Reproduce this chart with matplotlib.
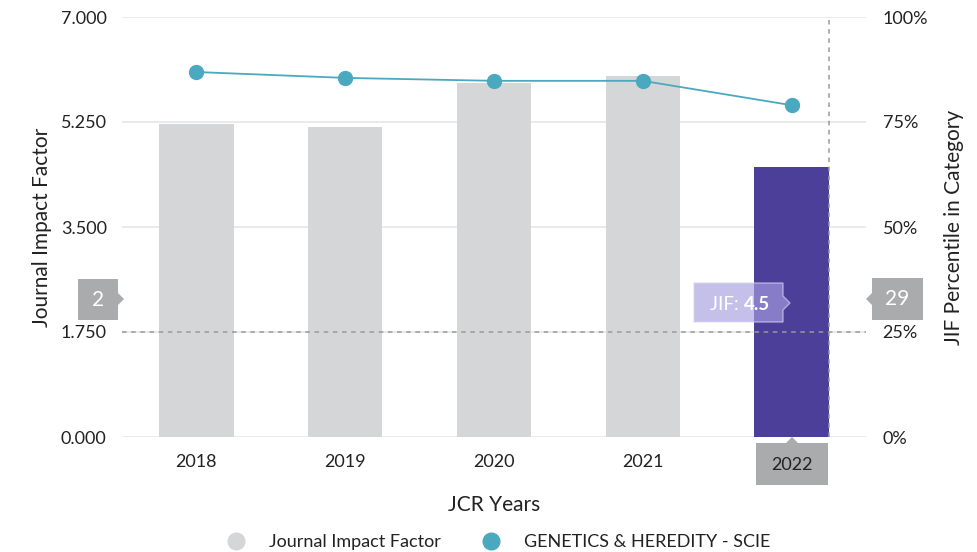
import matplotlib
matplotlib.use("Agg")
import matplotlib.pyplot as plt
from matplotlib.patches import Polygon
from matplotlib.lines import Line2D
import numpy as np

plt.rcParams['font.family'] = ['Lato', 'DejaVu Sans']

years = ["2018", "2019", "2020", "2021", "2022"]
jif = [5.22, 5.17, 5.9, 6.02, 4.5]
percentile = [86.9, 85.5, 84.8, 84.8, 79.0]
jif_ticks = [0.0, 1.75, 3.5, 5.25, 7.0]
pct_ticks = [0, 25, 50, 75, 100]
rank_left = "2"
rank_right = "29"
jif_label_value = "4.5"

bar_grey = "#d5d6d8"
bar_purple = "#4b3f9a"
teal = "#4ba9bf"
text_col = "#222222"

W, H = 977, 552
fig = plt.figure(figsize=(W / 100, H / 100), dpi=100)
ax = fig.add_axes([122 / W, 1 - 437 / H, 744 / W, 420 / H])
ax2 = ax.twinx()

x = np.arange(len(years))
colors = [bar_grey] * (len(years) - 1) + [bar_purple]
ax.bar(x, jif, width=0.5, color=colors, zorder=2)
ax.set_xlim(-0.5, len(years) - 0.5)
ax.set_ylim(0, 7.0)
ax.set_yticks(jif_ticks)
ax.set_yticklabels([f"{v:.3f}" for v in jif_ticks])
ax.set_xticks(x)
ax.set_xticklabels(years)
for lab in ax.get_xticklabels()[-1:]:
    lab.set_visible(False)
ax.grid(axis='y', color="#e6e6e6", linewidth=1.2, zorder=0)
ax.set_axisbelow(True)
for s in ax.spines.values():
    s.set_visible(False)
for s in ax2.spines.values():
    s.set_visible(False)
ax.tick_params(axis='both', length=0, labelsize=13, colors=text_col)
ax.tick_params(axis='y', pad=11)
ax.tick_params(axis='x', pad=12)
ax.set_ylabel("Journal Impact Factor", fontsize=15, color=text_col)
ax.yaxis.set_label_coords((52 - 122) / 744, 0.5)
ax.set_xlabel("JCR Years", fontsize=15, color=text_col, labelpad=18)

ax2.set_ylim(0, 100)
ax2.set_yticks(pct_ticks)
ax2.set_yticklabels([f"{v}%" for v in pct_ticks])
ax2.tick_params(axis='y', length=0, labelsize=13, colors=text_col, pad=12)
ax2.set_ylabel("JIF Percentile in Category", fontsize=15, color=text_col)
ax2.yaxis.set_label_coords((944 - 122) / 744, 0.5)
ax2.plot(x, percentile, color=teal, linewidth=1.3, marker='o', markersize=10, zorder=5)

# dashed reference lines
ax.axhline(1.75, color="#9a9a9a", linestyle=(0, (3, 3)), linewidth=1.1, zorder=3)
ax.axvline(len(years) - 1 + 0.25, color="#9a9a9a", linestyle=(0, (3, 3)), linewidth=1.1, zorder=3)

# callouts in pixel coordinates
def px(xp, yp):
    return (xp / W, 1 - yp / H)

def poly(pts, **kw):
    p = Polygon([px(a, b) for a, b in pts], closed=True, transform=fig.transFigure, **kw)
    fig.add_artist(p)

grey_box = "#a9abad"
# left rank box
poly([(78, 279), (118, 279), (118, 293), (124, 299), (118, 305), (118, 320), (78, 320)],
     facecolor=grey_box, edgecolor='none')
fig.text(*px(98, 300), rank_left, color="white", fontsize=15, ha='center', va='center')
# right rank box
poly([(872, 278), (923, 278), (923, 320), (872, 320), (872, 305), (866, 299), (872, 293)],
     facecolor=grey_box, edgecolor='none')
fig.text(*px(897, 299), rank_right, color="white", fontsize=15, ha='center', va='center')
# JIF box
poly([(694, 283), (783, 283), (783, 296), (790, 303), (783, 310), (783, 322), (694, 322)],
     facecolor="#a79ee0", edgecolor="#d8d3f0", alpha=0.65, linewidth=1, zorder=10)
fig.text(*px(727, 304), "JIF: ", color="white", fontsize=13.5, ha='center', va='center', zorder=11)
fig.text(*px(757, 304), jif_label_value, color="white", fontsize=13.5, fontweight='bold',
         ha='center', va='center', zorder=11)
# 2022 box
poly([(756, 443), (786, 443), (792, 437), (798, 443), (828, 443), (828, 485), (756, 485)],
     facecolor=grey_box, edgecolor='none')
fig.text(*px(792, 465), years[-1], color=text_col, fontsize=13, ha='center', va='center')

# legend
handles = [Line2D([], [], linestyle='none', marker='o', markersize=12, color=bar_grey),
           Line2D([], [], linestyle='none', marker='o', markersize=12, color=teal)]
fig.legend(handles, ["Journal Impact Factor", "GENETICS & HEREDITY - SCIE"],
           loc='center', bbox_to_anchor=(494 / W, 1 - 542 / H), ncol=2, frameon=False,
           fontsize=13, handletextpad=0.8, columnspacing=1.8, labelcolor=text_col)

fig.savefig("out.png", dpi=100)
